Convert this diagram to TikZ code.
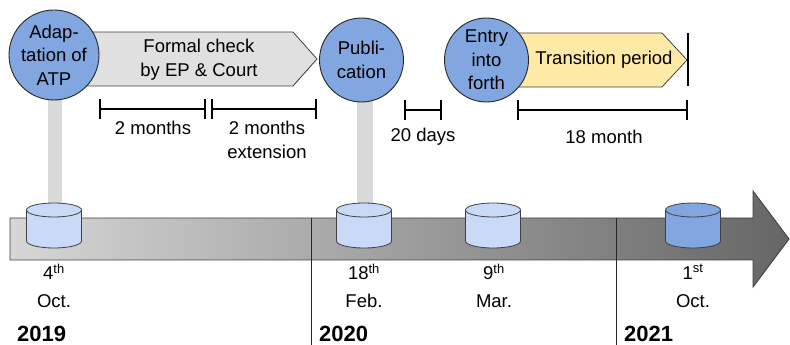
\documentclass[tikz,border=0pt]{standalone}
\usepackage{fontspec}
\setmainfont{Liberation Sans}
\usetikzlibrary{arrows.meta}
\definecolor{blueC}{HTML}{82A6DF}
\definecolor{blueL}{HTML}{C9DAF8}
\definecolor{grayP}{HTML}{E0E0E0}
\definecolor{yellowP}{HTML}{FFE9A6}
\definecolor{pillarC}{HTML}{D9D9D9}
\definecolor{edgeC}{HTML}{404040}
\newcommand\mycyl[3]{% name, x, fill
  \coordinate (#1) at (#2,120);
  \fill[#3] (#2-27.5,135) -- (#2-27.5,104) arc (180:360:27.5 and 7) -- (#2+27.5,135) -- cycle;
  \draw[cylline] (#2-27.5,135) -- (#2-27.5,104) arc (180:360:27.5 and 7) -- (#2+27.5,135);
  \draw[cylline, fill=#3] (#2,135) ellipse (27.5 and 7);
}
\begin{document}
\begin{tikzpicture}[x=1pt,y=1pt,
  every node/.style={font=\fontsize{18.5}{23.5}\selectfont, align=center, inner sep=0pt},
  circ/.style={circle, draw=black!85, fill=blueC, line width=0.9pt, minimum size=#1},
  pent/.style={draw=edgeC, line width=0.8pt},
  cylline/.style={draw=edgeC, line width=0.8pt},
  brk/.style={line width=1.8pt, {Bar[width=20pt,line width=1.8pt]}-{Bar[width=20pt,line width=1.8pt]}},
  datel/.style={font=\fontsize{18.5}{28}\selectfont},
  year/.style={font=\fontsize{22}{24}\selectfont\bfseries, anchor=west},
  pillar/.style={fill=pillarC, draw=none}]
\useasboundingbox (0,0) rectangle (790,345);

% pillars
\fill[pillar] (48,140) rectangle (62,250);
\fill[pillar] (357,140) rectangle (373,245);

% timeline arrow
\shade[left color=black!16, right color=black!60]
  (10,127) -- (753,127) -- (753,154) -- (789,106) -- (753,58) -- (753,85) -- (10,85) -- cycle;
\draw[draw=edgeC, line width=0.9pt]
  (10,127) -- (753,127) -- (753,154) -- (789,106) -- (753,58) -- (753,85) -- (10,85) -- cycle;

% year separators
\coordinate (y20top) at (311,127);
\coordinate (y20bot) at (311,0);
\coordinate (y21top) at (616,127);
\coordinate (y21bot) at (616,0);
\draw[black!85, line width=0.7pt] (y20top) -- (y20bot);
\draw[black!85, line width=0.7pt] (y21top) -- (y21bot);

% cylinders
\mycyl{c1}{54}{blueL}
\mycyl{c2}{364}{blueL}
\mycyl{c3}{493}{blueL}
\mycyl{c4}{693}{blueC}

% pentagons
\draw[pent, fill=grayP] (60,313) -- (293,313) -- (317,286) -- (293,259) -- (60,259) -- cycle;
\draw[pent, fill=yellowP] (490,312) -- (662,312) -- (687,285) -- (662,258) -- (490,258) -- cycle;
\coordinate (endT) at (688,312);
\coordinate (endB) at (688,259);
\draw[line width=1.4pt] (endT) -- (endB);

\node (check) at (199,285.5) {Formal check\\by EP \& Court};
\node (trans) at (604,285) {Transition period};

% circles
\node[circ=90pt] (adapt) at (54,290) {Adap-\\tation of\\ATP};
\node[circ=84pt] (publ) at (361.5,285) {Publi-\\cation};
\node[circ=84pt] (entry) at (486.5,285) {Entry\\into\\forth};

% brackets
\coordinate (b1l) at (99,236);
\coordinate (b1r) at (206,236);
\coordinate (b2l) at (211,236);
\coordinate (b2r) at (317,236);
\coordinate (b3l) at (404,235);
\coordinate (b3r) at (442,235);
\coordinate (b4l) at (517,235);
\coordinate (b4r) at (688,235);
\draw[brk] (b1l) -- (b1r);
\draw[brk] (b2l) -- (b2r);
\draw[brk] (b3l) -- (b3r);
\draw[brk] (b4l) -- (b4r);

\node (l1) at (153,217) {2 months};
\node (l2) at (267,205) {2 months\\extension};
\node (l3) at (423,208) {20 days};
\node (l4) at (604,208) {18 month};

% dates
\node[datel] (d1) at (54,59) {4\textsuperscript{th}\\Oct.};
\node[datel] (d2) at (364,59) {18\textsuperscript{th}\\Feb.};
\node[datel] (d3) at (494,59) {9\textsuperscript{th}\\Mar.};
\node[datel] (d4) at (693,59) {1\textsuperscript{st}\\Oct.};

% years
\node[year] (y19) at (17,11) {2019};
\node[year] (y20) at (319,11) {2020};
\node[year] (y21) at (624,11) {2021};
\end{tikzpicture}
\end{document}
